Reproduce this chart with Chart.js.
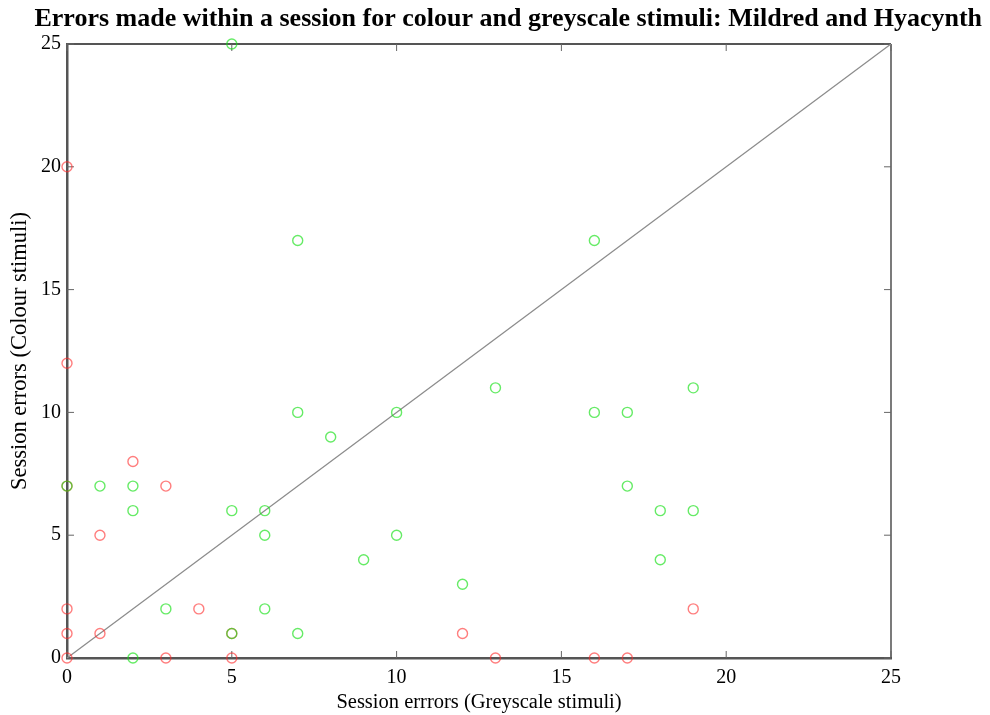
<!DOCTYPE html>
<html>
<head>
<meta charset="utf-8">
<script src="https://cdn.jsdelivr.net/npm/chart.js@4/dist/chart.umd.min.js"></script>
<style>
	html, body { margin: 0; padding: 0; background: #fff; }
	#wrap { width: 990px; height: 715px; }
</style>
</head>
<body>
<div id="wrap"><canvas id="errorsChart" width="990" height="715"></canvas></div>
<script>
var chartTitle = "Errors made within a session for colour and greyscale stimuli: Mildred and Hyacynth";
var xTitle = "Session errrors (Greyscale stimuli)";
var yTitle = "Session errors (Colour stimuli)";
var tickValues = [0, 5, 10, 15, 20, 25];

// red circles (greyscale errors, colour errors)
var redGrey   = [0, 0, 0, 0, 0, 0, 1, 1, 2, 3, 4, 3, 5, 5, 12, 13, 16, 17, 19];
var redColour = [20, 12, 7, 2, 1, 0, 5, 1, 8, 7, 2, 0, 0, 1, 1, 0, 0, 0, 2];

// green circles
var greenGrey   = [5, 7, 16, 13, 19, 7, 10, 16, 17, 8, 0, 1, 2, 17, 2, 5, 6, 18, 19, 6, 10, 9, 18, 12, 3, 6, 7, 5, 2];
var greenColour = [25, 17, 17, 11, 11, 10, 10, 10, 10, 9, 7, 7, 7, 7, 6, 6, 6, 6, 6, 5, 5, 4, 4, 3, 2, 2, 1, 1, 0];

// equality line
var lineGrey = [0, 25];
var lineColour = [0, 25];

function toPoints(xs, ys) {
	var pts = [];
	for (var i = 0; i < xs.length; i++) {
		pts.push({ x: xs[i], y: ys[i] });
	}
	return pts;
}

// frame on top/right plus inward tick marks on all four sides
var frameTicks = {
	id: "frameTicks",
	beforeDatasetsDraw: function (chart) {
		var ctx = chart.ctx;
		var a = chart.chartArea;
		var xs = chart.scales.x;
		var ys = chart.scales.y;
		var len = 7;
		ctx.save();
		ctx.strokeStyle = "#555";
		ctx.lineWidth = 2;
		ctx.beginPath();
		ctx.moveTo(a.left, a.top);
		ctx.lineTo(a.right, a.top);
		ctx.stroke();
		ctx.strokeStyle = "#333";
		ctx.lineWidth = 1.3;
		ctx.beginPath();
		ctx.moveTo(a.right, a.top);
		ctx.lineTo(a.right, a.bottom);
		ctx.stroke();
		ctx.strokeStyle = "#666";
		ctx.lineWidth = 1;
		ctx.beginPath();
		for (var i = 0; i < tickValues.length; i++) {
			var px = xs.getPixelForValue(tickValues[i]);
			ctx.moveTo(px, a.bottom);
			ctx.lineTo(px, a.bottom - len);
			ctx.moveTo(px, a.top);
			ctx.lineTo(px, a.top + len);
			var py = ys.getPixelForValue(tickValues[i]);
			ctx.moveTo(a.left, py);
			ctx.lineTo(a.left + len, py);
			ctx.moveTo(a.right, py);
			ctx.lineTo(a.right - len, py);
		}
		ctx.stroke();
		ctx.restore();
	}
};

var serif = "'Liberation Serif', 'DejaVu Serif', serif";

var errorsChart = new Chart(document.getElementById("errorsChart"), {
	type: "scatter",
	data: {
		datasets: [
			{
				label: "line",
				type: "line",
				order: 3,
				data: toPoints(lineGrey, lineColour),
				borderColor: "#8c8c8c",
				borderWidth: 1.3,
				pointRadius: 0,
				fill: false
			},
			{
				label: "red",
				order: 2,
				data: toPoints(redGrey, redColour),
				clip: false,
				pointStyle: "circle",
				pointRadius: 5,
				borderWidth: 1.4,
				borderColor: "rgba(255,40,40,0.6)",
				backgroundColor: "rgba(0,0,0,0)"
			},
			{
				label: "green",
				order: 1,
				data: toPoints(greenGrey, greenColour),
				clip: false,
				pointStyle: "circle",
				pointRadius: 5,
				borderWidth: 1.4,
				borderColor: "rgba(20,225,20,0.65)",
				backgroundColor: "rgba(0,0,0,0)"
			}
		]
	},
	options: {
		responsive: false,
		animation: false,
		layout: { padding: { left: 0, right: 8, top: 0, bottom: 0 } },
		plugins: {
			legend: { display: false },
			tooltip: { enabled: false },
			title: {
				display: true,
				text: chartTitle,
				align: "end",
				color: "#000",
				font: { family: serif, size: 26, weight: "bold", lineHeight: 1.2 },
				padding: { top: 3.5, bottom: 9.3 }
			}
		},
		scales: {
			x: {
				type: "linear",
				min: 0,
				max: 25,
				afterBuildTicks: function (s) {
					s.ticks = tickValues.map(function (v) { return { value: v }; });
				},
				afterFit: function (s) { s.height = 57; },
				grid: { display: false, drawTicks: false },
				border: { display: true, color: "#555", width: 2.5 },
				ticks: { color: "#000", padding: 8, font: { family: serif, size: 20 } },
				title: {
					display: true,
					text: xTitle,
					color: "#000",
					font: { family: serif, size: 20.5 },
					padding: { top: 0, bottom: 0 }
				}
			},
			y: {
				type: "linear",
				min: 0,
				max: 25,
				afterBuildTicks: function (s) {
					s.ticks = tickValues.map(function (v) { return { value: v }; });
				},
				afterFit: function (s) { s.width = 67; },
				grid: { display: false, drawTicks: false },
				border: { display: true, color: "#555", width: 2.5 },
				ticks: { color: "#000", padding: 6, font: { family: serif, size: 20 } },
				title: {
					display: true,
					text: yTitle,
					color: "#000",
					font: { family: serif, size: 22.5 },
					padding: { top: 6.5, bottom: 0 }
				}
			},
			yRight: {
				type: "linear",
				position: "right",
				display: true,
				afterFit: function (s) { s.width = 91; },
				grid: { display: false, drawTicks: false },
				border: { display: false },
				ticks: { display: false }
			}
		}
	},
	plugins: [frameTicks]
});
</script>
</body>
</html>
